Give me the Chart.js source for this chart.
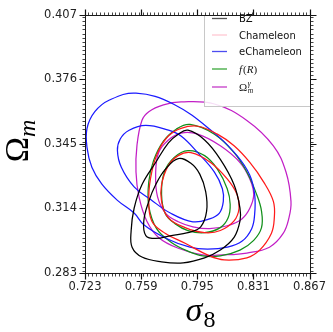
<!DOCTYPE html>
<html><head><meta charset="utf-8">
<script src="https://cdn.jsdelivr.net/npm/chart.js@4/dist/chart.umd.min.js"></script>
<style>html,body{margin:0;padding:0;background:#fff;}#wrap{width:333px;height:332px;}</style>
</head><body><div id="wrap"><canvas id="c" width="333" height="332"></canvas></div>
<script>
// ---- axis ticks ----
const xTicks = [0.723, 0.759, 0.795, 0.831, 0.867];
const yTicks = [0.283, 0.314, 0.345, 0.376, 0.407];
const xMinorStep = 0.0025, yMinorStep = 0.002;

// ---- contour data (sigma_8, Omega_m) ----
const bzOuterX = [0.7890,0.7997,0.8098,0.8186,0.8224,0.8224,0.8186,0.8098,0.7997,0.7859,0.7721,0.7595,0.7532,0.7526,0.7545,0.7595,0.7683,0.7765,0.7828];
const bzOuterY = [0.3516,0.3469,0.3376,0.3254,0.3141,0.3080,0.3001,0.2940,0.2903,0.2879,0.2884,0.2907,0.2954,0.3034,0.3141,0.3254,0.3361,0.3455,0.3497];
const bzInnerX = [0.7828,0.7909,0.7966,0.8004,0.8010,0.7972,0.7890,0.7784,0.7683,0.7620,0.7607,0.7639,0.7683,0.7746];
const bzInnerY = [0.3380,0.3357,0.3305,0.3221,0.3127,0.3052,0.3024,0.3010,0.2996,0.3010,0.3080,0.3174,0.3254,0.3329];

const chamOuterX = [0.7846,0.7953,0.8079,0.8186,0.8287,0.8375,0.8438,0.8444,0.8425,0.8350,0.8268,0.8123,0.8029,0.7872,0.7746,0.7658,0.7639,0.7658,0.7702,0.7765];
const chamOuterY = [0.3525,0.3535,0.3497,0.3441,0.3361,0.3268,0.3174,0.3095,0.3020,0.2940,0.2903,0.2893,0.2912,0.2973,0.3020,0.3080,0.3197,0.3315,0.3418,0.3488];
const chamInnerX = [0.7909,0.8035,0.8142,0.8205,0.8218,0.8186,0.8098,0.7997,0.7872,0.7765,0.7721,0.7721,0.7765,0.7828];
const chamInnerY = [0.3408,0.3361,0.3282,0.3207,0.3141,0.3080,0.3034,0.3024,0.3048,0.3095,0.3174,0.3254,0.3347,0.3394];

const eChamOuterX = [0.7557,0.7796,0.8060,0.8205,0.8287,0.8318,0.8318,0.8299,0.8236,0.8142,0.8016,0.7903,0.7752,0.7607,0.7545,0.7438,0.7337,0.7274,0.7243,0.7243,0.7293,0.7387];
const eChamOuterY = [0.3694,0.3642,0.3502,0.3394,0.3300,0.3207,0.3113,0.3043,0.2982,0.2954,0.2945,0.2954,0.2996,0.3062,0.3118,0.3179,0.3258,0.3338,0.3432,0.3525,0.3605,0.3661];
const eChamInnerX = [0.7620,0.7765,0.7846,0.7953,0.8060,0.8111,0.8117,0.8092,0.8029,0.7922,0.7777,0.7651,0.7545,0.7463,0.7438,0.7456,0.7513];
const eChamInnerY = [0.3539,0.3516,0.3488,0.3408,0.3315,0.3235,0.3174,0.3118,0.3090,0.3076,0.3118,0.3183,0.3244,0.3338,0.3418,0.3474,0.3516];

const fROuterX = [0.7903,0.8060,0.8186,0.8268,0.8331,0.8362,0.8362,0.8312,0.8224,0.8098,0.7985,0.7890,0.7784,0.7689,0.7639,0.7639,0.7670,0.7733,0.7815];
const fROuterY = [0.3544,0.3497,0.3408,0.3315,0.3207,0.3127,0.3048,0.2987,0.2940,0.2912,0.2912,0.2935,0.2977,0.3043,0.3151,0.3268,0.3371,0.3464,0.3521];
const fRInnerX = [0.7890,0.7997,0.8079,0.8142,0.8161,0.8148,0.8098,0.7997,0.7890,0.7809,0.7746,0.7721,0.7739,0.7802];
const fRInnerY = [0.3418,0.3394,0.3329,0.3235,0.3160,0.3095,0.3048,0.3024,0.3034,0.3066,0.3113,0.3207,0.3315,0.3385];

const omOuterX = [0.7846,0.8060,0.8268,0.8438,0.8519,0.8551,0.8538,0.8501,0.8413,0.8268,0.8117,0.7985,0.7828,0.7702,0.7626,0.7576,0.7557,0.7563,0.7595,0.7639,0.7733];
const omOuterY = [0.3652,0.3642,0.3563,0.3441,0.3315,0.3174,0.3095,0.3020,0.2954,0.2926,0.2917,0.2917,0.2949,0.3001,0.3080,0.3197,0.3315,0.3441,0.3563,0.3605,0.3638];
const omInnerX = [0.7702,0.7765,0.7846,0.7953,0.8098,0.8224,0.8287,0.8312,0.8287,0.8236,0.8142,0.8029,0.7922,0.7828,0.7746,0.7695,0.7683];
const omInnerY = [0.3408,0.3469,0.3502,0.3497,0.3441,0.3361,0.3282,0.3207,0.3141,0.3090,0.3057,0.3043,0.3052,0.3076,0.3118,0.3197,0.3305];

// ---- legend ----
const legendNames = ['BZ', 'Chameleon', 'eChameleon', 'f(R)', 'Ω_m^γ'];
const legendColors = ['#555555', '#ffc8d2', '#4c4cf0', '#3aa83a', '#c43cc8'];
const lineColors = ['#000000', '#ff1a1a', '#1a1aff', '#11901a', '#c21fc6'];

const contours = [
  [bzOuterX, bzOuterY, 0], [bzInnerX, bzInnerY, 0],
  [chamOuterX, chamOuterY, 1], [chamInnerX, chamInnerY, 1],
  [eChamOuterX, eChamOuterY, 2], [eChamInnerX, eChamInnerY, 2],
  [fROuterX, fROuterY, 3], [fRInnerX, fRInnerY, 3],
  [omOuterX, omOuterY, 4], [omInnerX, omInnerY, 4]
];

const datasets = contours.map(([xs, ys, k]) => {
  const pts = xs.map((v, i) => ({x: v, y: ys[i]}));
  const n = pts.length;
  const data = [pts[n - 1], ...pts, pts[0], pts[1]];
  const last = data.length - 1;
  return {
    data,
    showLine: true,
    borderColor: lineColors[k],
    borderWidth: 1.25,
    pointRadius: 0,
    tension: 0.4,
    fill: false,
    segment: {
      borderColor: c => (c.p0DataIndex === 0 || c.p1DataIndex === last) ? 'rgba(0,0,0,0)' : undefined
    }
  };
});

function minorValues(min, max, step) {
  const out = [];
  for (let k = Math.ceil(min / step - 1e-9); k * step <= max + 1e-9; k++) out.push(+(k * step).toFixed(6));
  return out;
}

const deco = {
  id: 'deco',
  afterDraw(chart) {
    const {ctx, chartArea: a, scales: {x: xs, y: ys}} = chart;
    ctx.save();
    ctx.strokeStyle = '#1a1a1a';
    ctx.lineWidth = 1;
    const L = Math.round(a.left) + 0.5, R = Math.round(a.right) + 0.5;
    const T = Math.round(a.top) + 0.5, B = Math.round(a.bottom) + 0.5;
    // ticks
    const drawX = (v, len) => {
      const p = Math.round(xs.getPixelForValue(v)) + 0.5;
      ctx.beginPath();
      ctx.moveTo(p, B); ctx.lineTo(p, B + len);
      ctx.moveTo(p, T); ctx.lineTo(p, T - len);
      ctx.stroke();
    };
    const drawY = (v, len) => {
      const p = Math.round(ys.getPixelForValue(v)) + 0.5;
      ctx.beginPath();
      ctx.moveTo(L, p); ctx.lineTo(L - len, p);
      ctx.moveTo(R, p); ctx.lineTo(R + len, p);
      ctx.stroke();
    };
    ctx.strokeStyle = '#444';
    minorValues(xs.min, xs.max, xMinorStep).forEach(v => drawX(v, 3));
    minorValues(ys.min, ys.max, yMinorStep).forEach(v => drawY(v, 3));
    ctx.strokeStyle = '#111';
    ctx.lineWidth = 1.2;
    xTicks.forEach(v => drawX(v, 6));
    yTicks.forEach(v => drawY(v, 6));

    // legend box
    const lx = 204.5, ly = T, lw = R - 204.5, lh = 91;
    ctx.fillStyle = 'rgba(255,255,255,0.85)';
    ctx.fillRect(lx, ly, lw, lh);
    ctx.strokeStyle = '#c8c8c8';
    ctx.lineWidth = 1;
    ctx.strokeRect(lx, ly, lw, lh);
    const rows = [18.5, 35, 51.5, 69, 87];
    rows.forEach((ry, i) => {
      ctx.strokeStyle = legendColors[i];
      ctx.lineWidth = 1.3;
      ctx.beginPath(); ctx.moveTo(212, ry); ctx.lineTo(227, ry); ctx.stroke();
      ctx.fillStyle = '#111';
      ctx.textBaseline = 'alphabetic';
      ctx.textAlign = 'left';
      const base = ry + 3.5;
      if (i < 3) {
        ctx.font = '10px "DejaVu Sans"';
        ctx.fillText(legendNames[i], 239, base);
      } else if (i === 3) {
        let x = 239;
        const parts = [['f', 'italic'], ['(', 'normal'], ['R', 'italic'], [')', 'normal']];
        parts.forEach(([t, st]) => {
          ctx.font = st + ' 11px "Liberation Serif"';
          ctx.fillText(t, x, base);
          x += ctx.measureText(t).width + (t === 'f' ? 1 : 0);
        });
      } else {
        ctx.font = '11px "Liberation Serif"';
        ctx.fillText('Ω', 239, base);
        const w = ctx.measureText('Ω').width;
        ctx.font = 'italic 7.5px "Liberation Serif"';
        ctx.fillText('m', 239 + w + 0.5, base + 2.5);
        ctx.fillText('γ', 239 + w + 0.5, base - 4.5);
      }
    });

    // frame
    ctx.strokeStyle = '#1a1a1a';
    ctx.lineWidth = 1;
    ctx.strokeRect(L, T, R - L, B - T);

    // axis titles
    ctx.fillStyle = '#000';
    ctx.textAlign = 'left';
    ctx.textBaseline = 'alphabetic';
    ctx.font = 'italic 34px "Liberation Serif"';
    const sw = ctx.measureText('σ').width;
    const sx = 200 - (sw + 12) / 2;
    ctx.fillText('σ', sx, 321);
    ctx.font = '24px "Liberation Serif"';
    ctx.fillText('8', sx + sw + 1, 327);

    ctx.save();
    ctx.translate(28, 141);
    ctx.rotate(-Math.PI / 2);
    ctx.font = '34px "Liberation Serif"';
    const ow = ctx.measureText('Ω').width;
    ctx.font = 'italic 24px "Liberation Serif"';
    const mw = ctx.measureText('m').width;
    const start = -(ow + mw) / 2;
    ctx.font = '34px "Liberation Serif"';
    ctx.fillText('Ω', start, 0);
    ctx.font = 'italic 24px "Liberation Serif"';
    ctx.fillText('m', start + ow, 7);
    ctx.restore();
    ctx.restore();
  }
};

new Chart(document.getElementById('c').getContext('2d'), {
  type: 'scatter',
  data: {datasets},
  options: {
    responsive: false,
    animation: false,
    devicePixelRatio: 1,
    layout: {padding: {top: 9, right: 19, left: 0, bottom: 0}},
    plugins: {legend: {display: false}, tooltip: {enabled: false}},
    scales: {
      x: {
        type: 'linear', min: 0.723, max: 0.867,
        afterBuildTicks: s => { s.ticks = xTicks.map(v => ({value: v})); },
        afterFit: s => { s.height = 59; },
        grid: {display: true, drawOnChartArea: false, drawTicks: false, color: 'rgba(0,0,0,0)'},
        border: {display: false},
        ticks: {font: {family: 'DejaVu Sans', size: 11.5}, color: '#222', padding: 7, maxRotation: 0, autoSkip: false,
          callback: v => Number(v).toFixed(3)}
      },
      y: {
        type: 'linear', min: 0.283, max: 0.407,
        afterBuildTicks: s => { s.ticks = yTicks.map(v => ({value: v})); },
        afterFit: s => { s.width = 85; },
        grid: {display: true, drawOnChartArea: false, drawTicks: false, color: 'rgba(0,0,0,0)'},
        border: {display: false},
        ticks: {font: {family: 'DejaVu Sans', size: 11.5}, color: '#222', padding: 8, autoSkip: false,
          callback: v => Number(v).toFixed(3)}
      }
    }
  },
  plugins: [deco]
});
</script>
</body></html>
